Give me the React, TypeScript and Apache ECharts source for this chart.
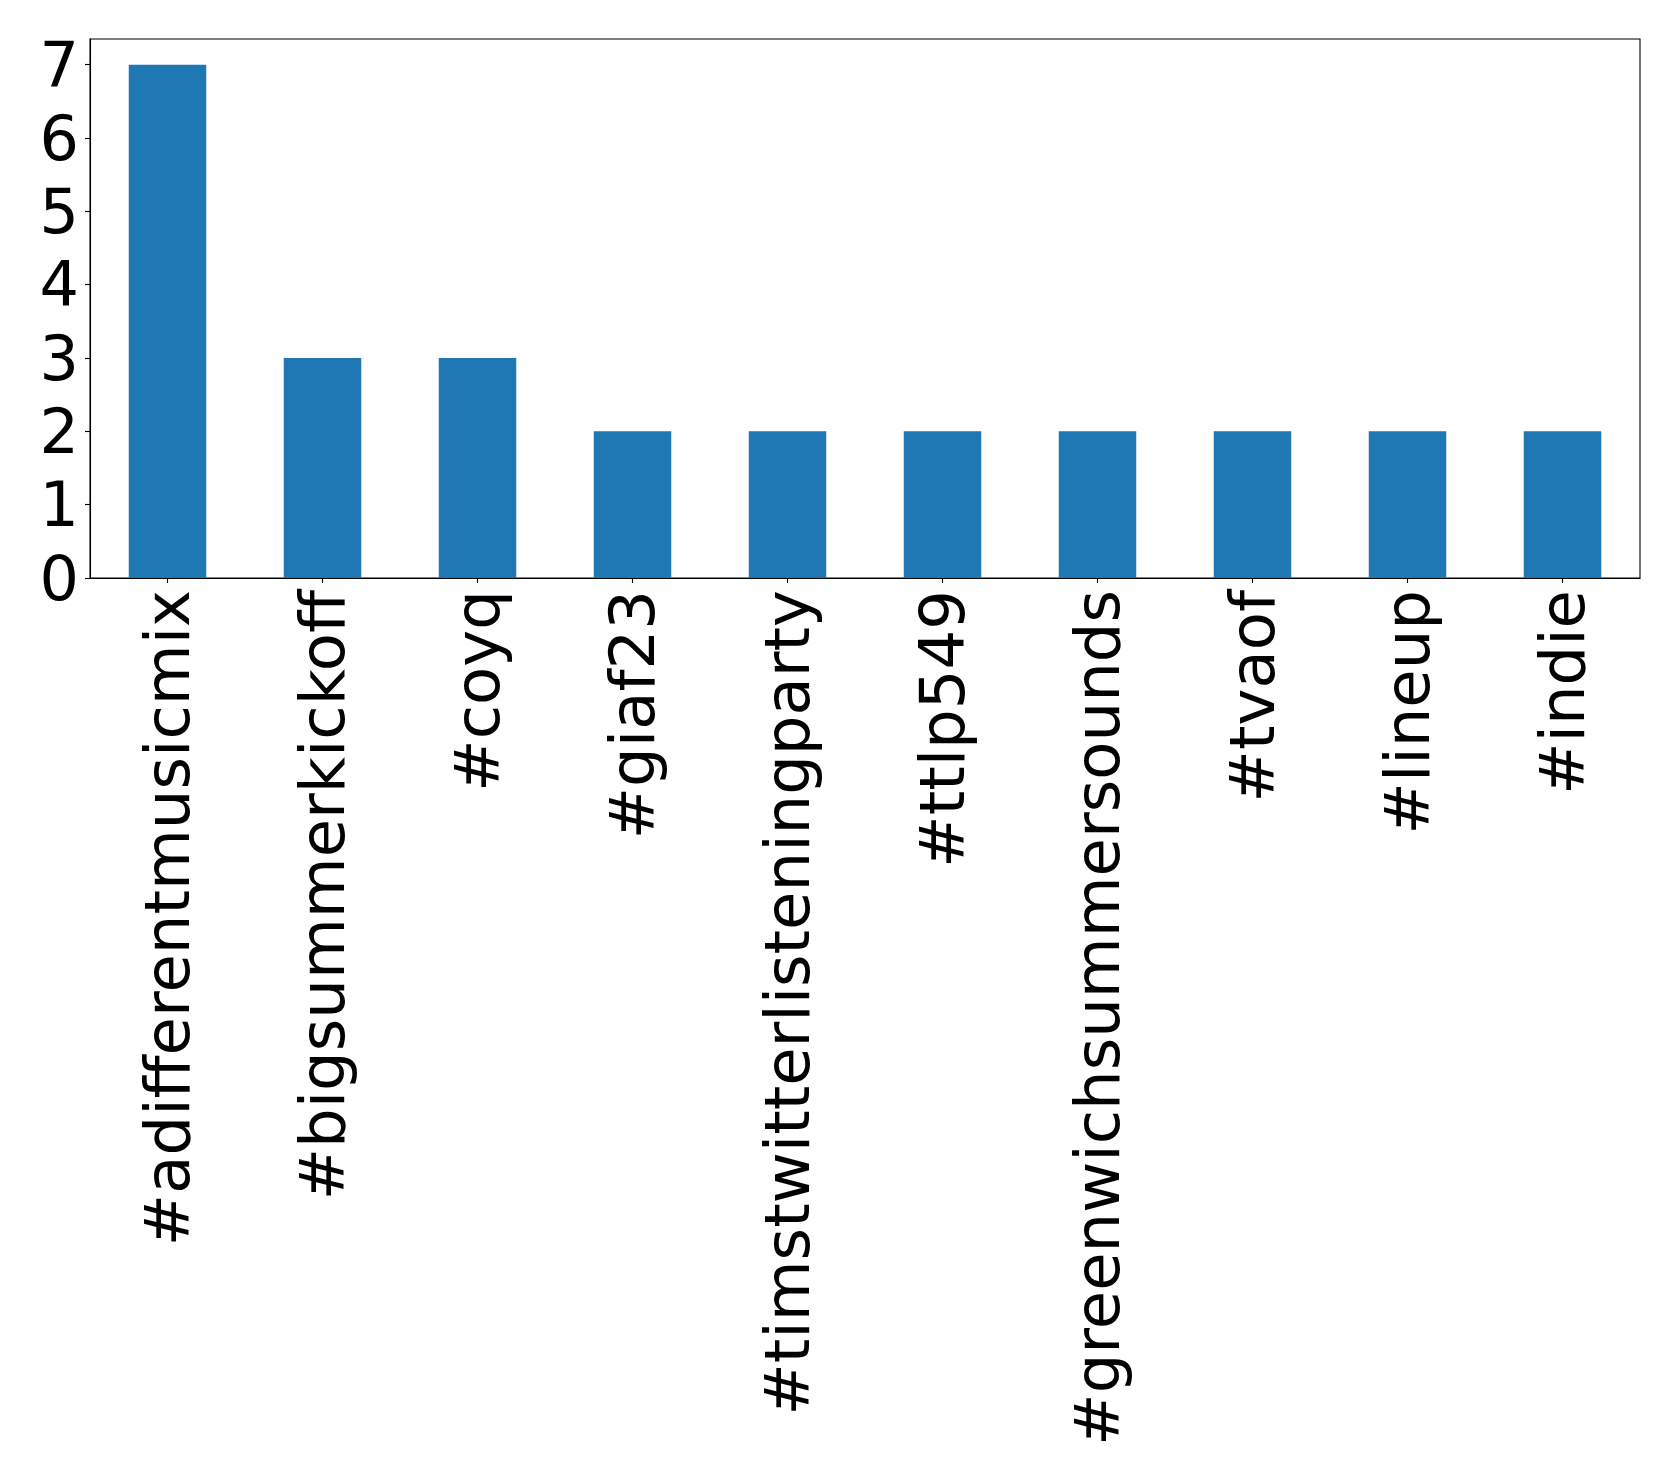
import React, { useEffect, useRef } from "react";
import * as echarts from "echarts";

const categories = [
  "#adifferentmusicmix",
  "#bigsummerkickoff",
  "#coyq",
  "#giaf23",
  "#timstwitterlisteningparty",
  "#ttlp549",
  "#greenwichsummersounds",
  "#tvaof",
  "#lineup",
  "#indie",
];
const counts = [7, 3, 3, 2, 2, 2, 2, 2, 2, 2];
const yTicks = [0, 1, 2, 3, 4, 5, 6, 7];

export default function App() {
  const ref = useRef<HTMLDivElement>(null);
  useEffect(() => {
    if (!ref.current) return;
    const chart = echarts.init(ref.current, null, { renderer: "svg" });
    const font = "DejaVu Sans";
    chart.setOption({
      animation: false,
      backgroundColor: "#ffffff",
      grid: {
        left: 90,
        top: 39,
        width: 1550,
        height: 539,
        show: true,
        borderColor: "#000000",
        borderWidth: 1.1,
        backgroundColor: "transparent",
      },
      xAxis: {
        type: "category",
        data: categories,
        boundaryGap: true,
        axisLine: { show: true, lineStyle: { color: "#000", width: 1.1 } },
        axisTick: { show: true, alignWithLabel: true, length: 5, lineStyle: { color: "#000", width: 1.1 } },
        axisLabel: {
          rotate: 90,
          interval: 0,
          margin: 12,
          color: "#000",
          fontFamily: font,
          fontSize: 62.5,
        },
        splitLine: { show: false },
      },
      yAxis: {
        type: "value",
        min: 0,
        max: 7.35,
        interval: 1,
        axisLine: { show: true, lineStyle: { color: "#000", width: 1.1 } },
        axisTick: { show: true, length: 5, lineStyle: { color: "#000", width: 1.1 } },
        axisLabel: {
          margin: 11,
          color: "#000",
          fontFamily: font,
          fontSize: 62,
          showMaxLabel: false,
          formatter: (v: number) => (yTicks.includes(v) ? String(v) : ""),
        },
        splitLine: { show: false },
      },
      series: [
        {
          type: "bar",
          data: counts,
          barWidth: "50%",
          itemStyle: { color: "#1f77b4" },
        },
      ],
    });
    return () => chart.dispose();
  }, []);
  return (
    <div
      ref={ref}
      style={{ position: "fixed", left: 0, top: 0, width: 1679, height: 1483 }}
    />
  );
}
